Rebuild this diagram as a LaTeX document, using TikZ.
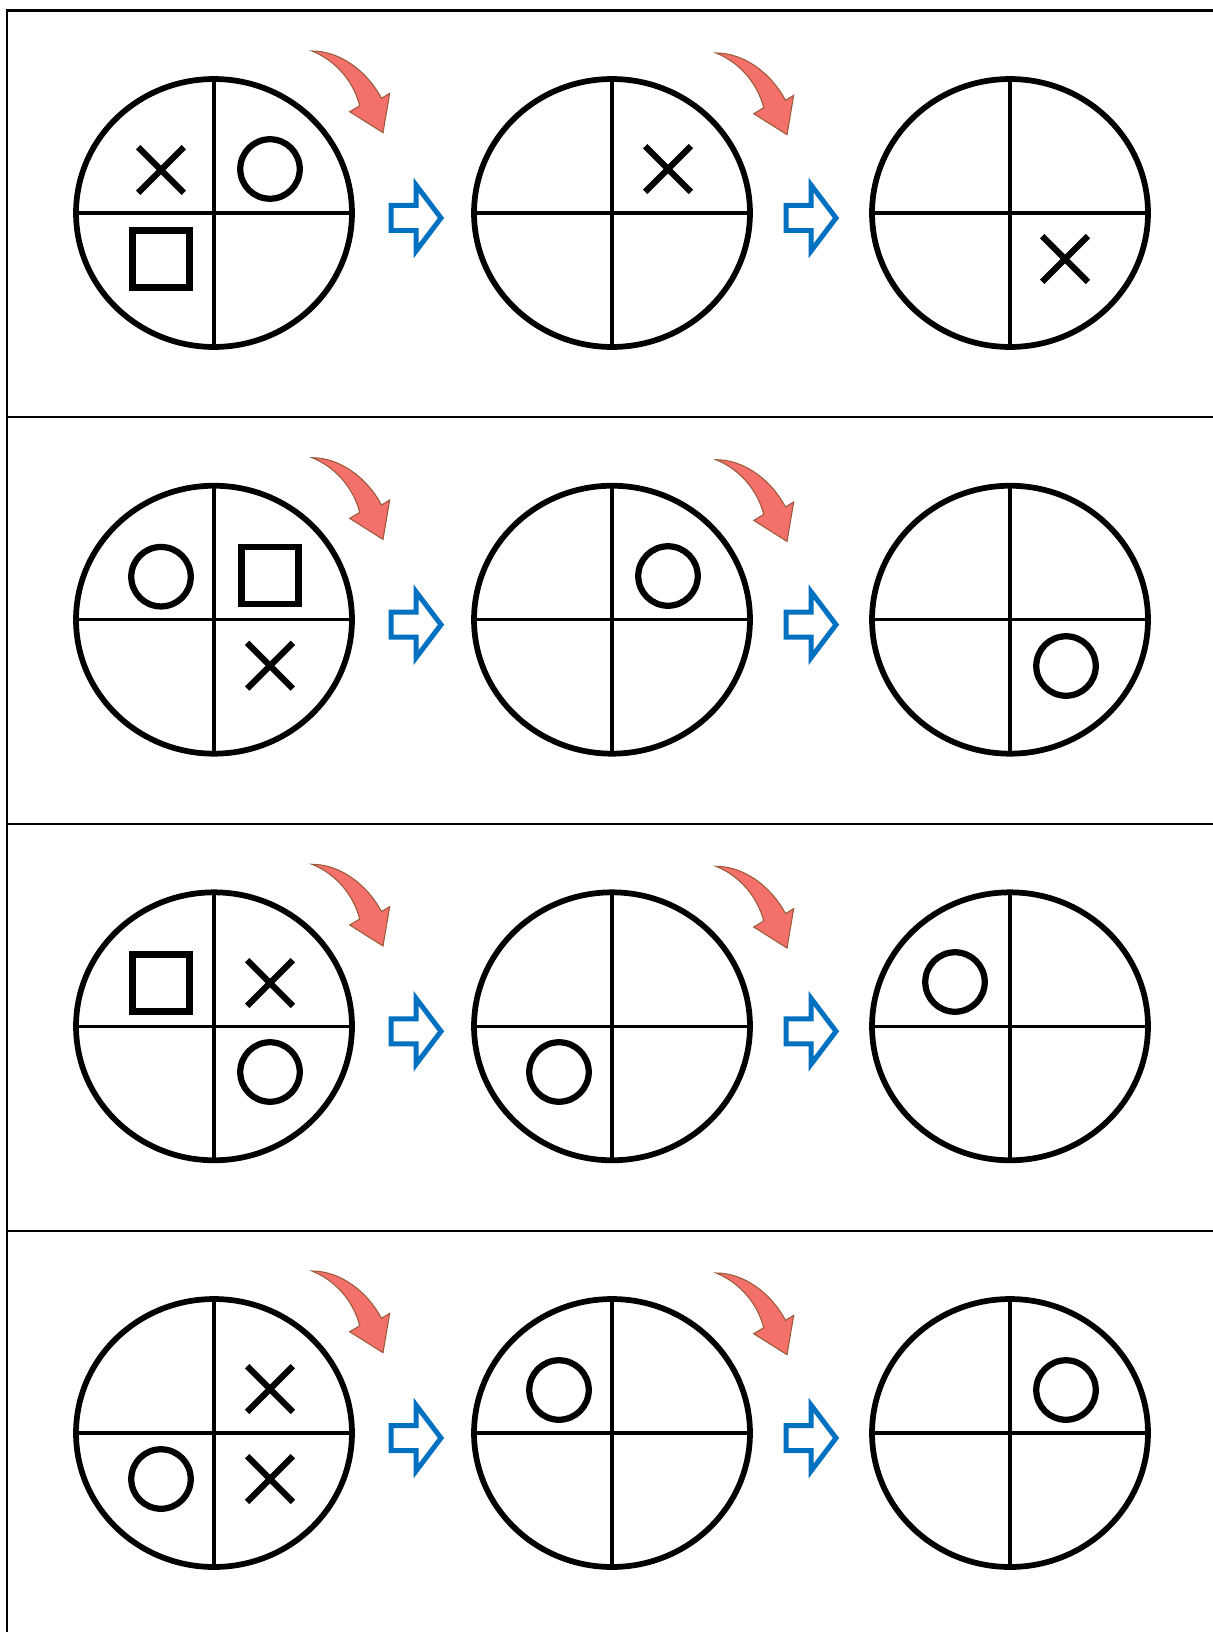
\documentclass[tikz,border=0pt]{standalone}
\usepackage{xcolor}
\usepackage{tikz}
\usetikzlibrary{shapes.geometric, shapes.misc}
\definecolor{swingred}{HTML}{F4706A}
\definecolor{swingedge}{HTML}{9A5A3A}
\definecolor{nextblue}{HTML}{0070C0}

\begin{document}
\begin{tikzpicture}[x=0.02cm, y=-0.02cm,
  disc/.style={draw, ellipse, line width=0.115cm, inner sep=0, outer sep=0, minimum width=5.52cm, minimum height=5.36cm,
    path picture={\draw[line width=0.065cm] (path picture bounding box.north) -- (path picture bounding box.south) (path picture bounding box.west) -- (path picture bounding box.east);}},
  cross/.style={draw, cross out, line width=0.125cm, inner sep=0, minimum size=0.79cm},
  ring/.style={draw, circle, line width=0.125cm, inner sep=0, minimum size=1.19cm},
  box/.style={draw, rectangle, line width=0.13cm, inner sep=0, minimum size=1.14cm},
  band/.style={line width=0.055cm},
  swing/.pic={\draw[fill=swingred, draw=swingedge, line width=0.6pt] (0,0) .. controls (28,0) and (55,20) .. (69.5,47.3) -- (77.7,42.3) -- (71,81.7) -- (37.7,60.7) -- (47.7,54.7) .. controls (42,32) and (25,10) .. cycle;},
  nextarrow/.pic={\draw[draw=nextblue, fill=white, line width=0.1cm] (0,-12.5) -- (25,-12.5) -- (25,-33) -- (50,0) -- (25,33) -- (25,12.5) -- (0,12.5) -- cycle;}]
\useasboundingbox (0,0) rectangle (1213,1632);
% frame
\draw[band] (7,1632) -- (7,10.7) -- (1213,10.7);
\draw[band] (7,417) -- (1213,417);
\draw[band] (7,824) -- (1213,824);
\draw[band] (7,1231) -- (1213,1231);
% row 1
\node[disc] (r1a) at (214,213) {};
\node[disc] (r1b) at (612,213) {};
\node[disc] (r1c) at (1010,213) {};
\node[cross] (x1a) at (161,170) {};
\node[ring] (o1a) at (270,169) {};
\node[box] (b1a) at (161,259) {};
\node[cross] (x1b) at (668,169) {};
\node[cross] (x1c) at (1065,259) {};
\pic (s1a) at (312,51) {swing};
\pic (s1b) at (716,53) {swing};
\pic (n1a) at (391,218) {nextarrow};
\pic (n1b) at (786,218) {nextarrow};
% row 2
\node[disc] (r2a) at (214,619.7) {};
\node[disc] (r2b) at (612,619.7) {};
\node[disc] (r2c) at (1010,619.7) {};
\node[ring] (o2a) at (161,576.7) {};
\node[box] (b2a) at (270,575.7) {};
\node[cross] (x2a) at (270,665.7) {};
\node[ring] (o2b) at (668,576) {};
\node[ring] (o2c) at (1066,666) {};
\pic (s2a) at (312,457.7) {swing};
\pic (s2b) at (716,459.7) {swing};
\pic (n2a) at (391,624.7) {nextarrow};
\pic (n2b) at (786,624.7) {nextarrow};
% row 3
\node[disc] (r3a) at (214,1026.3) {};
\node[disc] (r3b) at (612,1026.3) {};
\node[disc] (r3c) at (1010,1026.3) {};
\node[box] (b3a) at (161,983) {};
\node[cross] (x3a) at (270,983) {};
\node[ring] (o3a) at (270,1072) {};
\node[ring] (o3b) at (559,1072) {};
\node[ring] (o3c) at (955,982) {};
\pic (s3a) at (312,864.3) {swing};
\pic (s3b) at (716,866.3) {swing};
\pic (n3a) at (391,1031.3) {nextarrow};
\pic (n3b) at (786,1031.3) {nextarrow};
% row 4
\node[disc] (r4a) at (214,1433) {};
\node[disc] (r4b) at (612,1433) {};
\node[disc] (r4c) at (1010,1433) {};
\node[cross] (x4a) at (270,1389) {};
\node[ring] (o4a) at (161,1479) {};
\node[cross] (y4a) at (270,1479) {};
\node[ring] (o4b) at (559,1390) {};
\node[ring] (o4c) at (1066,1390) {};
\pic (s4a) at (312,1271) {swing};
\pic (s4b) at (716,1273) {swing};
\pic (n4a) at (391,1438) {nextarrow};
\pic (n4b) at (786,1438) {nextarrow};
\end{tikzpicture}
\end{document}
